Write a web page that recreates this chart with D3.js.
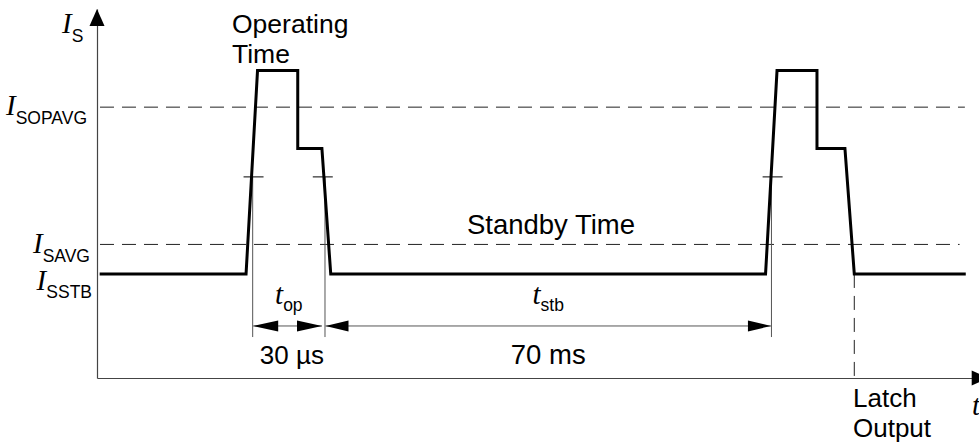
<!DOCTYPE html>
<html>
<head>
<meta charset="utf-8">
<script src="https://cdn.jsdelivr.net/npm/d3@7"></script>
<style>
  body { margin: 0; background: #fff; }
  text { font-family: "Liberation Sans", Arial, sans-serif; fill: #000; }
  .it { font-family: "Liberation Serif", "Times New Roman", serif; font-style: italic; }
</style>
</head>
<body>
<div id="chart"></div>
<script>
// current levels, schematic units
var levelNames = ["SSTB", "SAVG", "SOPAVG"];
var levelValues = [28.2, 36.2, 73.4];
var peakLevel = 83.3;
var stepLevel = 62.2;
var halfLevel = 54.5;

// waveform corners (time, level)
var waveTimes = [0.3, 16.9, 18.2, 22.76, 22.76, 25.5, 26.5, 75.8, 77.1, 81.63, 81.63, 84.8, 85.86, 98.5];
var waveLevels = [28.2, 28.2, 83.3, 83.3, 62.2, 62.2, 28.2, 28.2, 83.3, 83.3, 62.2, 62.2, 28.2, 28.2];

// half level marks on the edges
var markTimes = [17.75, 25.6, 76.6];

// dimensions
var dimStarts = [17.65, 25.85];
var dimEnds = [25.85, 76.47];
var dimNames = ["op", "stb"];
var dimValues = ["30 \u00b5s", "70 ms"];

var latchTime = 85.86;

const width = 979, height = 443;

const svg = d3
  .select("#chart")
  .append("svg")
  .attr("width", width)
  .attr("height", height);

const x = d3.scaleLinear().domain([0, 100]).range([97, 979]);
const y = d3.scaleLinear().domain([0, 100]).range([378, 9]);

// axes, just the lines
svg
  .append("g")
  .attr("transform", `translate(0,${y(0)})`)
  .call(d3.axisBottom(x).tickValues([]).tickSizeOuter(0))
  .select(".domain")
  .attr("stroke", "#444")
  .attr("stroke-width", 1.2);

svg
  .append("g")
  .attr("transform", `translate(${x(0)},0)`)
  .call(d3.axisLeft(y).tickValues([]).tickSizeOuter(0))
  .select(".domain")
  .attr("stroke", "#444")
  .attr("stroke-width", 1.2);

// arrow heads
const tipY = y(100);
svg
  .append("path")
  .attr("d", `M${x(0)},${tipY}L${x(0) - 7.5},${tipY + 17}L${x(0) + 7.5},${tipY + 17}Z`)
  .attr("fill", "#000");
const tipX = x(101.1);
svg
  .append("path")
  .attr("d", `M${tipX},${y(0)}L${tipX - 17},${y(0) - 7.5}L${tipX - 17},${y(0) + 7.5}Z`)
  .attr("fill", "#000");

// dashed average levels
const dashEnds = [0, 97.8, 98.4];
svg
  .append("g")
  .selectAll("line")
  .data(levelValues.slice(1))
  .enter()
  .append("line")
  .attr("x1", x(0.34))
  .attr("x2", (d, i) => x(dashEnds[i + 1]))
  .attr("y1", (d) => y(d))
  .attr("y2", (d) => y(d))
  .attr("stroke", "#222")
  .attr("stroke-width", 1)
  .attr("stroke-dasharray", "14,8");

// latch dashed line
svg
  .append("line")
  .attr("x1", x(latchTime))
  .attr("x2", x(latchTime))
  .attr("y1", y(levelValues[0]))
  .attr("y2", y(0))
  .attr("stroke", "#222")
  .attr("stroke-width", 1)
  .attr("stroke-dasharray", "14,8");

// extension lines
const extTimes = [dimStarts[0], dimStarts[1], dimEnds[1]];
svg
  .append("g")
  .selectAll("line")
  .data(extTimes)
  .enter()
  .append("line")
  .attr("x1", (d) => x(d))
  .attr("x2", (d) => x(d))
  .attr("y1", y(halfLevel))
  .attr("y2", y(11.1))
  .attr("stroke", "#555")
  .attr("stroke-width", 1);

// half level marks
svg
  .append("g")
  .selectAll("line")
  .data(markTimes)
  .enter()
  .append("line")
  .attr("x1", (d) => x(d) - 10)
  .attr("x2", (d) => x(d) + 10)
  .attr("y1", y(halfLevel))
  .attr("y2", y(halfLevel))
  .attr("stroke", "#000")
  .attr("stroke-width", 1);

// waveform
const line = d3
  .line()
  .x((d) => x(d[0]))
  .y((d) => y(d[1]));
svg
  .append("path")
  .attr("d", line(waveTimes.map((t, i) => [t, waveLevels[i]])))
  .attr("fill", "none")
  .attr("stroke", "#000")
  .attr("stroke-width", 3)
  .attr("stroke-linejoin", "miter");

// dimension arrows
const dimY = y(14.1);
dimStarts.forEach((s, i) => {
  const x1 = x(s) + 0.5, x2 = x(dimEnds[i]) - (i == 0 ? 3 : 0.5);
  const len = i == 0 ? 25 : 23;
  svg
    .append("line")
    .attr("x1", x1)
    .attr("x2", x2)
    .attr("y1", dimY)
    .attr("y2", dimY)
    .attr("stroke", "#555")
    .attr("stroke-width", 1);
  svg
    .append("path")
    .attr("d", `M${x1},${dimY}L${x1 + len},${dimY - 5.5}L${x1 + len},${dimY + 5.5}Z`)
    .attr("fill", "#000");
  svg
    .append("path")
    .attr("d", `M${x2},${dimY}L${x2 - len},${dimY - 5.5}L${x2 - len},${dimY + 5.5}Z`)
    .attr("fill", "#000");

  const cx = (x(s) + x(dimEnds[i])) / 2;
  const lab = svg
    .append("text")
    .attr("x", cx)
    .attr("y", dimY - 22)
    .attr("text-anchor", "middle");
  lab.append("tspan").attr("class", "it").attr("font-size", 29).text("t");
  lab.append("tspan").attr("font-size", 17.5).attr("dy", 7).text(dimNames[i]);

  svg
    .append("text")
    .attr("x", cx + (i == 0 ? 3 : 0))
    .attr("y", dimY + 38)
    .attr("text-anchor", "middle")
    .attr("font-size", i == 0 ? 26 : 27.5)
    .text(dimValues[i]);
});

// level labels
const labelEnd = [92, 90, 87];
const labelDy = [16, 9, 8];
levelNames.forEach((n, i) => {
  const t = svg
    .append("text")
    .attr("x", labelEnd[i])
    .attr("y", y(levelValues[i]) + labelDy[i])
    .attr("text-anchor", "end");
  t.append("tspan").attr("class", "it").attr("font-size", 29).text("I");
  t.append("tspan").attr("font-size", 17.5).attr("dy", 8.5).text(n);
});

// axis names
const ys = svg.append("text").attr("x", 62).attr("y", 33);
ys.append("tspan").attr("class", "it").attr("font-size", 29).text("I");
ys.append("tspan").attr("font-size", 17.5).attr("dy", 8.5).text("S");

svg
  .append("text")
  .attr("class", "it")
  .attr("x", 972)
  .attr("y", 415)
  .attr("font-size", 29)
  .text("t");

// annotations
function multi(px, py, lines, anchor, size) {
  const t = svg
    .append("text")
    .attr("font-size", size)
    .attr("text-anchor", anchor);
  lines.forEach((l, i) => {
    t.append("tspan").attr("x", px).attr("y", py + i * 30).text(l);
  });
}
multi(232, 33, ["Operating", "Time"], "start", 26.5);
multi(551, 234, ["Standby Time"], "middle", 27.5);
multi(853, 407, ["Latch", "Output"], "start", 26);
</script>
</body>
</html>
